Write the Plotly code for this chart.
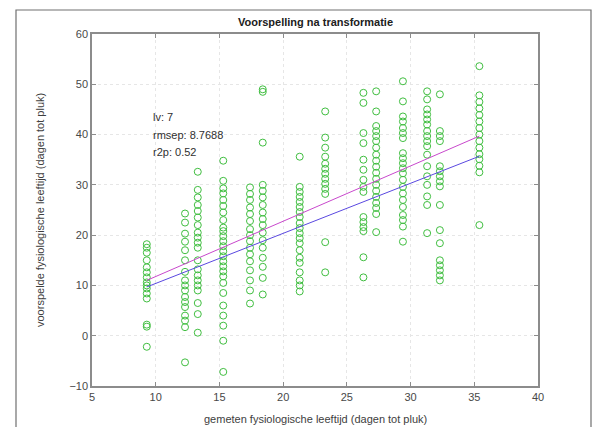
import plotly.graph_objects as go

# ---- data ----
x_levels = [9.3, 12.3, 13.3, 15.3, 17.4, 18.4, 21.3, 23.3, 26.3, 27.3, 29.4, 31.3, 32.3, 35.4]

y_093 = [18.2, 17.5, 16.5, 15.0, 13.6, 12.6, 11.6, 10.6, 10.0, 9.4, 8.4, 7.4, 2.2, 1.8, -2.2]
y_123 = [24.3, 22.5, 20.3, 18.7, 17.0, 15.0, 12.7, 11.0, 10.0, 9.0, 7.7, 6.7, 5.7, 4.0, 3.0, 1.7, -5.3]
y_133 = [32.6, 29.0, 27.5, 26.0, 24.8, 23.5, 22.0, 20.5, 19.5, 18.5, 17.5, 15.0, 13.2, 12.0, 11.0,
         10.0, 9.0, 6.5, 4.3, 0.6]
y_153 = [34.8, 30.8, 29.3, 28.3, 27.0, 25.8, 24.5, 23.0, 21.5, 20.8, 19.8, 18.8, 17.8, 16.8, 15.8,
         14.8, 13.8, 12.8, 11.8, 10.5, 8.5, 6.0, 4.0, 2.0, -1.0, -7.2]
y_174 = [29.5, 28.2, 27.0, 25.5, 24.2, 22.8, 21.2, 20.0, 18.8, 17.5, 16.2, 14.8, 13.0, 11.0, 9.0, 6.4]
y_184 = [49.0, 48.5, 38.4, 30.0, 28.8, 27.5, 26.0, 24.5, 23.2, 22.0, 20.5, 19.0, 17.5, 15.5, 13.7,
         11.5, 8.2]
y_213 = [35.6, 29.6, 28.6, 27.6, 26.6, 25.6, 24.6, 23.6, 22.4, 21.4, 20.4, 19.4, 18.4, 17.0, 15.5,
         14.5, 12.6, 11.0, 10.0, 8.8]
y_233 = [44.6, 39.4, 37.4, 35.6, 34.2, 33.2, 32.2, 31.2, 30.2, 29.2, 28.2, 18.6, 12.6]
y_263 = [48.3, 46.3, 40.3, 38.3, 35.0, 33.0, 31.0, 29.6, 28.6, 23.6, 22.6, 21.6, 20.8, 15.6, 11.6]
y_273 = [48.6, 44.6, 41.7, 40.7, 39.7, 38.7, 37.4, 36.0, 34.8, 33.6, 32.4, 31.2, 30.0, 28.8, 27.6,
         26.4, 25.4, 24.2, 20.6]
y_294 = [50.6, 46.6, 43.6, 42.6, 41.3, 40.3, 39.3, 36.3, 35.3, 34.3, 33.3, 32.3, 31.0, 29.6, 28.3,
         27.0, 25.6, 24.0, 23.0, 21.7, 18.7]
y_313 = [48.6, 47.0, 45.0, 44.0, 43.0, 42.0, 40.7, 39.7, 38.7, 37.7, 36.0, 33.7, 31.7, 30.0, 27.7,
         26.0, 20.4]
y_323 = [48.0, 40.7, 39.7, 38.7, 33.7, 32.7, 31.7, 30.7, 29.7, 26.0, 21.0, 18.4, 15.0, 14.0, 13.0,
         12.0, 11.0]
y_354 = [53.6, 47.8, 46.5, 45.2, 43.9, 42.6, 41.3, 40.0, 38.7, 37.4, 36.1, 35.1, 33.8, 32.5, 22.0]

y_columns = [y_093, y_123, y_133, y_153, y_174, y_184, y_213, y_233, y_263, y_273,
             y_294, y_313, y_323, y_354]

# regression lines (slope, intercept)
fit_line = (1.0996, 0.774)     # magenta
target_line = (0.996, 0.437)   # blue

stats_text = ["lv: 7", "rmsep: 8.7688", "r2p: 0.52"]
title_text = "Voorspelling na transformatie"
xlabel = "gemeten fysiologische leeftijd (dagen tot pluk)"
ylabel = "voorspelde fysiologische leeftijd (dagen tot pluk)"
x_ticks = [5, 10, 15, 20, 25, 30, 35, 40]
y_ticks = [-10, 0, 10, 20, 30, 40, 50, 60]

# ---- build ----
xs, ys = [], []
for xv, col in zip(x_levels, y_columns):
    xs += [xv] * len(col)
    ys += col

FONT = "Liberation Sans, Arial, Helvetica, sans-serif"
fig = go.Figure()
fig.add_trace(go.Scatter(
    x=xs, y=ys, mode="markers",
    marker=dict(symbol="circle-open", size=7, color="#40be40", line=dict(width=1)),
    showlegend=False, hoverinfo="x+y"))

xmin, xmax = min(x_levels), max(x_levels)
for (m, b), col in [(target_line, "#5a48e0"), (fit_line, "#c848cc")]:
    fig.add_trace(go.Scatter(
        x=[xmin, xmax], y=[m * xmin + b, m * xmax + b], mode="lines",
        line=dict(color=col, width=1), showlegend=False))

L, R, T, B = 92, 58, 34, 41
W, H = 596, 427
pw, ph = W - L - R, H - T - B

axis_common = dict(
    showline=True, linecolor="#8c8c8c", linewidth=1.5, mirror="ticks",
    ticks="inside", ticklen=4, tickcolor="#8c8c8c", tickwidth=1,
    showgrid=True, gridcolor="#e6e6e6", griddash="dot", gridwidth=1,
    zeroline=False, tickfont=dict(family=FONT, size=11, color="#484848"),
)
fig.update_xaxes(range=[5, 40], tickvals=x_ticks, **axis_common)
fig.update_yaxes(range=[-10, 60], tickvals=y_ticks, **axis_common)

annotations = []
annotations.append(dict(text="<b>" + title_text + "</b>", xref="paper", yref="paper",
                        x=0.5, y=(H - B - 22) / ph, xanchor="center", yanchor="middle",
                        showarrow=False, font=dict(family=FONT, size=11, color="#202020")))
annotations.append(dict(text=xlabel, xref="paper", yref="paper",
                        x=0.5, y=(H - B - 419) / ph, xanchor="center", yanchor="middle",
                        showarrow=False, font=dict(family=FONT, size=11, color="#404040")))
annotations.append(dict(text=ylabel, xref="paper", yref="paper", textangle=-90,
                        x=(40 - L) / pw, y=0.5, xanchor="center", yanchor="middle",
                        showarrow=False, font=dict(family=FONT, size=11, color="#404040")))
for t, yv in zip(stats_text, [43.55, 39.9, 36.6]):
    annotations.append(dict(text=t, x=9.6, y=yv, xref="x", yref="y",
                            xanchor="left", yanchor="middle", showarrow=False,
                            font=dict(family=FONT, size=11, color="#303030")))

fig.update_layout(
    width=W, height=H,
    margin=dict(l=L, r=R, t=T, b=B, pad=0),
    paper_bgcolor="white", plot_bgcolor="white",
    annotations=annotations,
    shapes=[dict(type="rect", xref="paper", yref="paper",
                 x0=(16 - L) / pw, x1=(591 - L) / pw,
                 y0=(H - B - 440) / ph, y1=(H - B - 10) / ph,
                 line=dict(color="#707070", width=1.2), fillcolor="rgba(0,0,0,0)",
                 layer="below")],
)

fig.write_html("out.html", config={"displayModeBar": False},
               post_script="document.body.style.margin='0';document.body.style.overflow='hidden';")
